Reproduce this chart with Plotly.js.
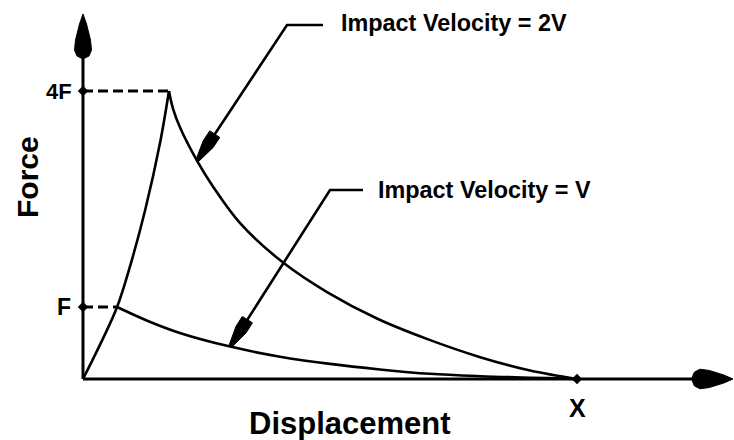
<!DOCTYPE html>
<html>
<head>
<meta charset="utf-8">
<script src="https://cdn.plot.ly/plotly-3.0.1.min.js"></script>
<style>html,body{margin:0;padding:0;background:#fff;}#chart{width:734px;height:440px;}</style>
</head>
<body>
<div id="chart"></div>
<script>
// ---- data (displacement in units of X, force in units of F) ----
const loadX = [0, 0.034, 0.069, 0.095, 0.126, 0.156, 0.174];
const loadF = [0, 0.47, 1.0, 1.56, 2.35, 3.28, 4.0];
const hiX = [0.174, 0.182, 0.196, 0.231, 0.263, 0.318, 0.405, 0.494, 0.595, 0.696, 0.804, 0.905, 1.0];
const hiF = [4.0, 3.76, 3.50, 3.03, 2.675, 2.165, 1.617, 1.207, 0.84, 0.557, 0.303, 0.117, 0];
const loX = [0.069, 0.130, 0.196, 0.298, 0.399, 0.5, 0.601, 0.702, 0.804, 1.0];
const loF = [1.0, 0.81, 0.64, 0.45, 0.31, 0.21, 0.133, 0.072, 0.039, 0];
const yTickVals = [1, 4];
const yTickText = ['F', '4F'];
const xTickVals = [1];
const xTickText = ['X'];
const curveLabels = ['Impact Velocity = 2V', 'Impact Velocity = V'];
const xTitle = 'Displacement';
const yTitle = 'Force';

// ---- geometry helpers (pixel <-> data) ----
const W = 734, H = 440, X0PX = 83, XUNIT = 494, Y0PX = 379, YUNIT = 72;
const X = px => (px - X0PX) / XUNIT;
const Y = py => (Y0PX - py) / YUNIT;
const PX = x => X0PX + x * XUNIT;
const PY = y => Y0PX - y * YUNIT;

function headPath(tip, from, pts) {
  const dx = tip[0] - from[0], dy = tip[1] - from[1];
  const L = Math.hypot(dx, dy); const ux = dx / L, uy = dy / L;
  const nx = -uy, ny = ux;
  const s = pts.map((p, i) => {
    const px = tip[0] - ux * p[0] + nx * p[1];
    const py = tip[1] - uy * p[0] + ny * p[1];
    return (i ? 'L' : 'M') + X(px).toFixed(5) + ',' + Y(py).toFixed(5);
  });
  return s.join(' ') + ' Z';
}
function back(tip, from, d) {
  const dx = tip[0] - from[0], dy = tip[1] - from[1];
  const L = Math.hypot(dx, dy);
  return [tip[0] - dx / L * d, tip[1] - dy / L * d];
}
const axisHead = [[0,0],[10,3.5],[26,7.5],[36,8.5],[42,6],[45,0],[42,-6],[36,-8.5],[26,-7.5],[10,-3.5]];
const leaderHead = [[0,1.5],[20,6],[32,6],[32,-6],[20,-6],[0,-1.5]];

const black = '#000';
const lw = 2.6;
const traces = [
  {x: loadX, y: loadF, mode: 'lines', line: {color: black, width: lw, shape: 'spline', smoothing: 1}},
  {x: hiX, y: hiF, mode: 'lines', line: {color: black, width: lw, shape: 'spline', smoothing: 1}},
  {x: loX, y: loF, mode: 'lines', line: {color: black, width: lw, shape: 'spline', smoothing: 1}},
  {x: [0, hiX[0]], y: [yTickVals[1], yTickVals[1]], mode: 'lines', line: {color: black, width: 2.8, dash: '10px,5px'}},
  {x: [0, loX[0]], y: [yTickVals[0], yTickVals[0]], mode: 'lines', line: {color: black, width: 2.8, dash: '10px,5px'}},
  {x: [0, 0, xTickVals[0]], y: [yTickVals[0], yTickVals[1], 0], mode: 'markers',
   marker: {symbol: 'diamond', size: 8, color: black}}
];

// leader geometry
const tip2V = [PX(hiX[3]), PY(hiF[3])];
const bend2V = [287, 25];
const tipV = [PX(loX[3]), PY(loF[3])];
const bendV = [330, 190];
const end2V = back(tip2V, bend2V, 28);
const endV = back(tipV, bendV, 28);
const pline = pts => pts.map((p, i) => (i ? 'L' : 'M') + X(p[0]).toFixed(5) + ',' + Y(p[1]).toFixed(5)).join(' ');

const shapes = [
  // axes
  {type: 'line', x0: 0, y0: 0, x1: 0, y1: Y(52), line: {color: black, width: 3}},
  {type: 'line', x0: 0, y0: 0, x1: X(700), y1: 0, line: {color: black, width: 3}},
  {type: 'path', path: headPath([X0PX, 14], [X0PX, 379], axisHead), fillcolor: black, line: {color: black, width: 1}},
  {type: 'path', path: headPath([733, Y0PX], [X0PX, Y0PX], axisHead.map(p => [p[0] * 0.92, p[1] * 1.15])), fillcolor: black, line: {color: black, width: 1}},
  // leaders
  {type: 'path', path: pline([[323, 25], bend2V, end2V]), line: {color: black, width: 2.6}},
  {type: 'path', path: headPath(tip2V, bend2V, leaderHead), fillcolor: black, line: {color: black, width: 1}},
  {type: 'path', path: pline([[363, 190], bendV, endV]), line: {color: black, width: 2.6}},
  {type: 'path', path: headPath(tipV, bendV, leaderHead), fillcolor: black, line: {color: black, width: 1}}
];

const fam = 'Liberation Sans, Arial, Helvetica, sans-serif';
const f = size => ({family: fam, size: size, color: black, weight: 'bold'});
const annotations = [
  {x: X(74), y: yTickVals[1], xanchor: 'right', yanchor: 'middle', text: yTickText[1], showarrow: false, font: f(22)},
  {x: X(73), y: yTickVals[0], xanchor: 'right', yanchor: 'middle', text: yTickText[0], showarrow: false, font: f(23)},
  {x: xTickVals[0], y: Y(408), xanchor: 'center', yanchor: 'middle', text: xTickText[0], showarrow: false, font: f(25)},
  {x: X(339), y: Y(23), xanchor: 'left', yanchor: 'middle', text: curveLabels[0], showarrow: false, font: f(23.4)},
  {x: X(376), y: Y(190), xanchor: 'left', yanchor: 'middle', text: curveLabels[1], showarrow: false, font: f(23.4)},
  {x: X(350), y: Y(423), xanchor: 'center', yanchor: 'middle', text: xTitle, showarrow: false, font: f(31)},
  {x: X(27), y: Y(177), xanchor: 'center', yanchor: 'middle', text: yTitle, textangle: -90, showarrow: false, font: f(30)}
];

const layout = {
  width: W, height: H,
  margin: {l: 0, r: 0, t: 0, b: 0},
  paper_bgcolor: '#fff', plot_bgcolor: '#fff',
  showlegend: false,
  xaxis: {range: [X(0), X(W)], visible: false, fixedrange: true},
  yaxis: {range: [Y(H), Y(0)], visible: false, fixedrange: true},
  shapes: shapes,
  annotations: annotations
};
Plotly.newPlot('chart', traces, layout, {staticPlot: true, displayModeBar: false});
</script>
</body>
</html>
